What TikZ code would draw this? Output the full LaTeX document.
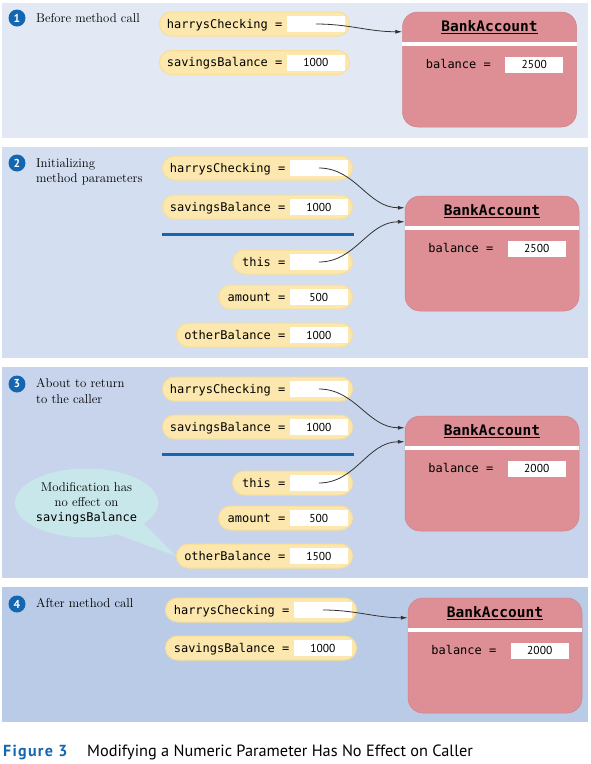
\documentclass[tikz,border=0pt]{standalone}
\usepackage{fontspec}
\setmonofont{DejaVu Sans Mono}
\setsansfont{PT Sans}
\newfontfamily\figfont{PT Sans}[LetterSpace=8]
\usetikzlibrary{shapes.callouts,arrows.meta,calc}

\definecolor{panelA}{HTML}{E2E9F5}
\definecolor{panelB}{HTML}{D3DEF0}
\definecolor{panelC}{HTML}{C8D4EC}
\definecolor{panelD}{HTML}{B9CBE7}
\definecolor{pillfill}{HTML}{FCE8AE}
\definecolor{pilledge}{HTML}{F9DF95}
\definecolor{objfill}{HTML}{DE8F95}
\definecolor{stepblue}{HTML}{1466B0}
\definecolor{notefill}{HTML}{C8E7EA}

\begin{document}
\begin{tikzpicture}
[x=1pt,y=-1pt,
pill/.style={rectangle,rounded corners=12pt,fill=pillfill,draw=pilledge,line width=1pt,
	minimum height=24pt,inner sep=0pt},
valbox/.style={rectangle,fill=white,minimum width=58pt,minimum height=16pt,inner sep=0pt,
	font=\sffamily\fontsize{11.5}{12}\selectfont},
code/.style={inner sep=0pt,text height=10pt,text depth=2pt,
	font=\ttfamily\fontsize{12}{14}\selectfont},
obj/.style={rectangle,rounded corners=15pt,fill=objfill,draw=objfill!92!black,line width=.5pt,
	minimum width=174pt,minimum height=115pt,inner sep=0pt},
objtitle/.style={inner sep=0pt,font=\ttfamily\bfseries\fontsize{14.5}{16}\selectfont},
stepnum/.style={circle,fill=stepblue,text=white,minimum size=17pt,inner sep=0pt,
	font=\sffamily\bfseries\fontsize{11.5}{12}\selectfont},
steptext/.style={anchor=north west,inner sep=0pt,align=left,
	font=\fontsize{12.8}{15.5}\selectfont},
sepline/.style={stepblue,line width=3pt},
ref/.style={-{Latex[length=7pt,width=4pt]},black!80,line width=.8pt}]

\useasboundingbox (0,0) rectangle (590,764);
\fill[panelA] (2,3) rectangle (588,138);
\fill[panelB] (2,147) rectangle (588,358);
\fill[panelC] (2,367) rectangle (588,578);
\fill[panelD] (2,587) rectangle (588,722);

\node[stepnum] (s1) at (17,18) {1};
\node[stepnum] (s2) at (17,163) {2};
\node[stepnum] (s3) at (17,384) {3};
\node[stepnum] (s4) at (17,604) {4};
\node[steptext] (t1) at (36,13.3) {Before method call};
\node[steptext] (t2) at (36,158.3) {Initializing\\method parameters};
\node[steptext] (t3) at (36,378.3) {About to return\\to the caller};
\node[steptext] (t4) at (36,598.3) {After method call};

\foreach \n/\xr/\yc/\w/\lab/\val in {
	hcA/350/24/190/harrysChecking =/, sbA/350/62.5/190/savingsBalance =/1000,
	hcB/353/168/190/harrysChecking =/, sbB/353/207/190/savingsBalance =/1000,
	thisB/353/262/120/this =/, amB/353/297/134/amount =/500,
	obB/353/335/176/otherBalance =/1000,
	hcC/353/389/190/harrysChecking =/, sbC/353/427/190/savingsBalance =/1000,
	thisC/353/483/120/this =/, amC/353/518/134/amount =/500,
	obC/353/556/176/otherBalance =/1500,
	hcD/357/610/191/harrysChecking =/, sbD/357/648/191/savingsBalance =/1000}
{
	\node[pill,minimum width=\w pt,anchor=east] (\n) at (\xr,\yc) {};
	\node[valbox,anchor=east] (\n-v) at ([xshift=-5pt]\n.east) {\val};
	\node[code,anchor=east] (\n-l) at ([xshift=-4pt]\n-v.west) {\lab};
}

\draw[sepline] ($(sbB.south west)+(0,15)$) -- ($(sbB.south east)+(1,15)$);
\draw[sepline] ($(sbC.south west)+(0,15)$) -- ($(sbC.south east)+(1,15)$);

\foreach \n/\xc/\yc/\bal in {A/489.5/69.5/2500, B/492/253.5/2500,
	C/492/473.5/2000, D/495/655.5/2000}
{
	\node[obj] (obj\n) at (\xc,\yc) {};
	\fill[white] ($(obj\n.north west)+(0,30)$) rectangle ($(obj\n.north east)+(0,34)$);
	\node[objtitle] (ttl\n) at ($(obj\n.north)+(0,15)$) {\underline{BankAccount}};
	\node[valbox] (bal\n) at ($(obj\n.north west)+(132,53)$) {\bal};
	\node[code,anchor=east] (bal\n-l) at ([xshift=-14pt]bal\n.west) {balance =};
}

\draw[ref] (hcA-v.center) to[out=0,in=180] ($(objA.north west)+(0,20)$);
\draw[ref] (hcB-v.center) to[out=0,in=180] ($(objB.north west)+(0,12)$);
\draw[ref] (thisB-v.center) to[out=0,in=180] ($(objB.north west)+(0,26)$);
\draw[ref] (hcC-v.center) to[out=0,in=180] ($(objC.north west)+(0,12)$);
\draw[ref] (thisC-v.center) to[out=0,in=180] ($(objC.north west)+(0,26)$);
\draw[ref] (hcD-v.center) to[out=0,in=180] ($(objD.north west)+(0,20)$);

\node[ellipse callout,fill=notefill,minimum width=141pt,minimum height=69pt,inner sep=0pt,
	callout absolute pointer={(obC.west)},callout pointer arc=28,align=center,
	font=\fontsize{12.8}{15}\selectfont] (note) at (86.5,503)
	{Modification has\\no effect on\\{\ttfamily\fontsize{12}{15}\selectfont savingsBalance}};

\node[anchor=base west,inner sep=0pt,text=stepblue,font=\figfont\bfseries\fontsize{16}{18}\selectfont]
	(fig) at (3,756) {Figure 3};
\node[anchor=base west,inner sep=0pt,font=\sffamily\fontsize{16.3}{18}\selectfont]
	(cap) at (87,756) {Modifying a Numeric Parameter Has No Effect on Caller};
\end{tikzpicture}
\end{document}
